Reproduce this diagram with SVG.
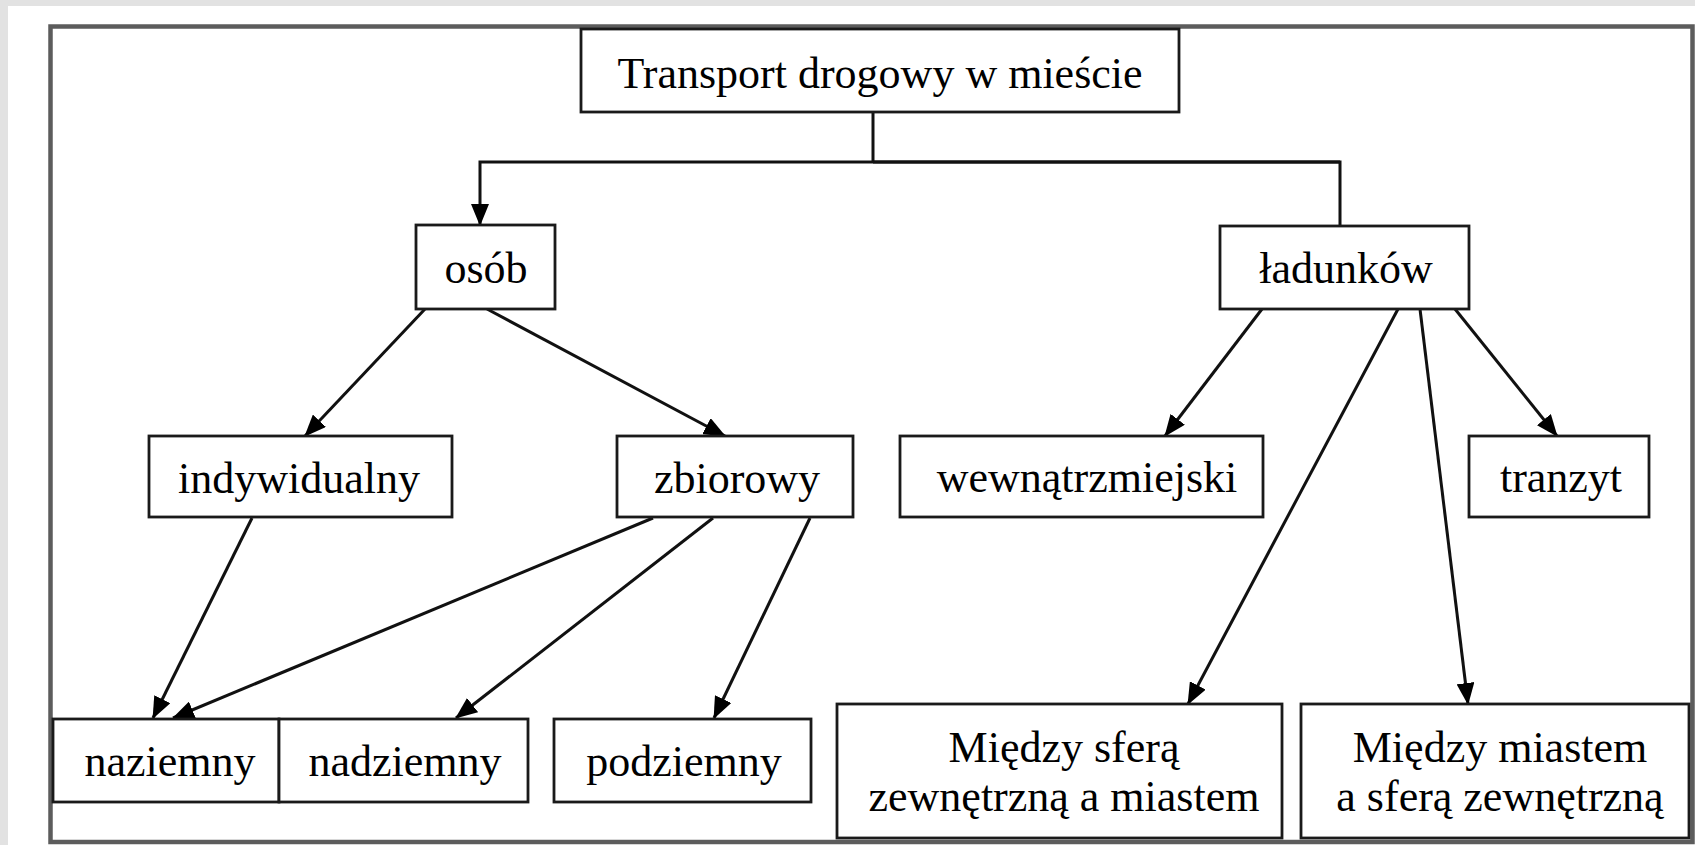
<svg xmlns="http://www.w3.org/2000/svg" width="1695" height="845" viewBox="0 0 1695 845">
  <style>
    .box { fill: #ffffff; stroke: #1a1a1a; stroke-width: 2.8; }
    .lbl { font-family: "Liberation Serif", "Times New Roman", serif; font-size: 44px; fill: #000000; text-anchor: middle; }
    .edge { fill: none; stroke: #111111; stroke-width: 3; }
    .arrow { marker-end: url(#head); }
  </style>
  <defs>
    <marker id="head" markerUnits="userSpaceOnUse" markerWidth="22" markerHeight="18" refX="21" refY="9" orient="auto">
      <path d="M0,0 L22,9 L0,18 Z" fill="#000000"/>
    </marker>
  </defs>

  <!-- page background and frame -->
  <rect x="0" y="0" width="1695" height="845" fill="#e2e2e2"/>
  <rect x="8" y="6" width="1687" height="839" fill="#ffffff"/>
  <rect x="50.5" y="26.5" width="1642" height="815.5" fill="none" stroke="#5c5c5c" stroke-width="4.5"/>

  <!-- connectors -->
  <g id="connectors">
    <polyline class="edge" points="873,113 873,162"/>
    <polyline class="edge arrow" points="1340,162 480,162 480,225"/>
    <polyline class="edge" points="873,162 1340,162 1340,226"/>

    <line class="edge arrow" x1="425" y1="309" x2="305" y2="436"/>
    <line class="edge arrow" x1="487" y1="309" x2="725" y2="436"/>

    <line class="edge arrow" x1="252" y1="518" x2="153" y2="718"/>
    <line class="edge arrow" x1="653" y1="518" x2="173" y2="718"/>
    <line class="edge arrow" x1="713" y1="518" x2="456" y2="718"/>
    <line class="edge arrow" x1="810" y1="518" x2="714" y2="718"/>

    <line class="edge arrow" x1="1262" y1="309" x2="1165" y2="436"/>
    <line class="edge arrow" x1="1398" y1="309" x2="1188" y2="704"/>
    <line class="edge arrow" x1="1420" y1="309" x2="1468" y2="704"/>
    <line class="edge arrow" x1="1455" y1="309" x2="1557" y2="436"/>
  </g>

  <!-- nodes -->
  <g id="root">
    <rect class="box" x="581" y="29" width="598" height="83"/>
    <text class="lbl" x="880" y="88">Transport drogowy w mieście</text>
  </g>
  <g id="osob">
    <rect class="box" x="416" y="225" width="139" height="84"/>
    <text class="lbl" x="486" y="283">osób</text>
  </g>
  <g id="ladunkow">
    <rect class="box" x="1220" y="226" width="249" height="83"/>
    <text class="lbl" x="1346" y="283">ładunków</text>
  </g>
  <g id="indywidualny">
    <rect class="box" x="149" y="436" width="303" height="81"/>
    <text class="lbl" x="299" y="493">indywidualny</text>
  </g>
  <g id="zbiorowy">
    <rect class="box" x="617" y="436" width="236" height="81"/>
    <text class="lbl" x="737" y="493">zbiorowy</text>
  </g>
  <g id="wewnatrzmiejski">
    <rect class="box" x="900" y="436" width="363" height="81"/>
    <text class="lbl" x="1087" y="492">wewnątrzmiejski</text>
  </g>
  <g id="tranzyt">
    <rect class="box" x="1469" y="436" width="180" height="81"/>
    <text class="lbl" x="1561" y="492">tranzyt</text>
  </g>
  <g id="naziemny">
    <rect class="box" x="53" y="719" width="226" height="83"/>
    <text class="lbl" x="170" y="776">naziemny</text>
  </g>
  <g id="nadziemny">
    <rect class="box" x="279" y="719" width="249" height="83"/>
    <text class="lbl" x="405" y="776">nadziemny</text>
  </g>
  <g id="podziemny">
    <rect class="box" x="554" y="719" width="257" height="83"/>
    <text class="lbl" x="684" y="776">podziemny</text>
  </g>
  <g id="sfera-miasto">
    <rect class="box" x="837" y="704" width="445" height="134"/>
    <text class="lbl" x="1064" y="762">Między sferą</text>
    <text class="lbl" x="1064" y="811">zewnętrzną a miastem</text>
  </g>
  <g id="miasto-sfera">
    <rect class="box" x="1301" y="704" width="388" height="134"/>
    <text class="lbl" x="1500" y="762">Między miastem</text>
    <text class="lbl" x="1500" y="811">a sferą zewnętrzną</text>
  </g>
</svg>
